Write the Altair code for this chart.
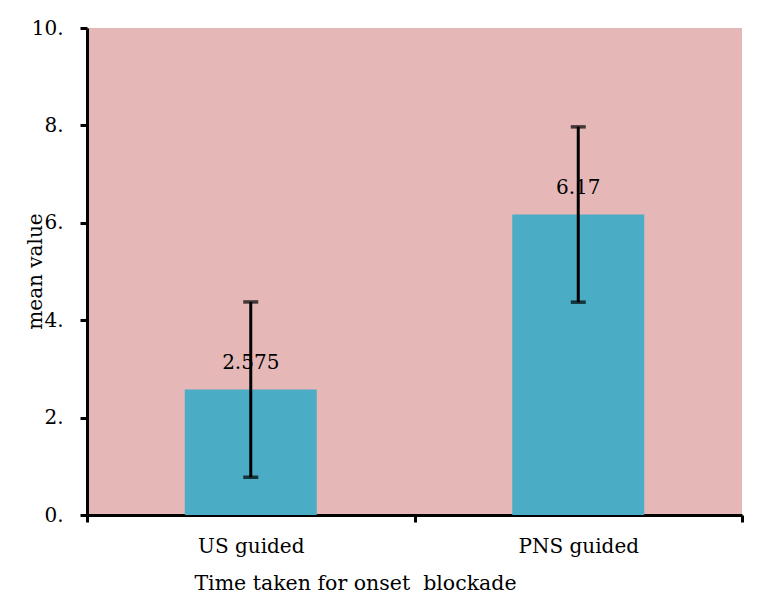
import altair as alt
import pandas as pd

categories = ["US guided", "PNS guided"]
means = [2.575, 6.17]
errors = [1.8, 1.8]
labels = ["2.575", "6.17"]

df = pd.DataFrame({
    "cat": categories,
    "mean": means,
    "lo": [m - e for m, e in zip(means, errors)],
    "hi": [m + e for m, e in zip(means, errors)],
    "label": labels,
})

FONT = "DejaVu Serif"

x = alt.X("cat:N", sort=categories,
          scale=alt.Scale(paddingInner=0, paddingOuter=0),
          axis=alt.Axis(title="Time taken for onset \u00a0blockade", labelAngle=0,
                        tickBand="extent", tickSize=7, tickWidth=3, domainWidth=3,
                        domainColor="black", tickColor="black",
                        labelPadding=14, labelFontSize=20, labelFont=FONT, labelColor="black",
                        titleFont=FONT, titleFontSize=20.5, titleFontWeight="normal", titleColor="black",
                        titleX=268, titleY=58, titleAlign="center"))

y_scale = alt.Scale(domain=[0, 10])
y_axis = alt.Axis(title="mean value", values=[0, 2, 4, 6, 8, 10], labelExpr="datum.value + '.'",
                  grid=False, tickSize=7, tickWidth=3, domainWidth=3,
                  domainColor="black", tickColor="black",
                  labelPadding=17, labelFontSize=20, labelFont=FONT, labelColor="black",
                  titleFont=FONT, titleFontSize=20, titleFontWeight="normal", titleColor="black",
                  titleX=-42, titleY=243, titleAlign="center")

base = alt.Chart(df).encode(x=x)

bars = base.mark_bar(color="#4BACC6", width=alt.RelativeBandSize(0.403)).encode(
    y=alt.Y("mean:Q", scale=y_scale, axis=y_axis))
rule = base.mark_rule(color="black", strokeWidth=3).encode(y="lo:Q", y2="hi:Q")
cap_lo = base.mark_tick(color="black", size=15, thickness=3.5).encode(y="lo:Q")
cap_hi = base.mark_tick(color="black", size=15, thickness=3.5).encode(y="hi:Q")
text = base.mark_text(dy=-27, fontSize=20, font=FONT, color="black", baseline="middle").encode(
    y="mean:Q", text="label:N")

chart = alt.layer(bars, rule, cap_lo, cap_hi, text).properties(
    width=655, height=487,
    padding={"left": 17, "top": 10, "right": 5, "bottom": 5},
    background="white",
).configure_view(fill="#E5B8B7", stroke=None)

chart.save("out.html", embed_options={"renderer": "svg", "actions": False})
